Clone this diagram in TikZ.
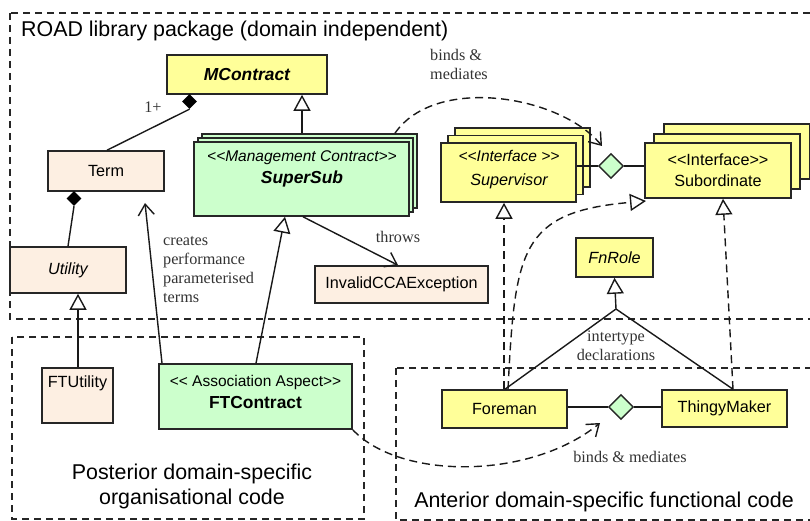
\documentclass[tikz,border=0pt]{standalone}
\usepackage{fontspec}
\setmainfont{Liberation Serif}
\setsansfont{Liberation Sans}
\usetikzlibrary{arrows.meta,shapes.geometric,calc}
\definecolor{roadyellow}{RGB}{255,255,153}
\definecolor{roadgreen}{RGB}{204,255,204}
\definecolor{roadpeach}{RGB}{253,239,226}
\newcommand{\regfont}{\sffamily\fontsize{16.2}{19}\selectfont}
\newcommand{\stereofont}{\fontsize{15.5}{18}\selectfont}
\newcommand{\boldfont}{\bfseries\fontsize{17.4}{20}\selectfont}
\tikzset{
  cls/.style={draw=black!85, line width=1.6pt, rectangle, inner sep=0pt, font=\regfont, align=center},
  ycls/.style={cls, fill=roadyellow},
  gcls/.style={cls, fill=roadgreen},
  pcls/.style={cls, fill=roadpeach},
  txt/.style={inner sep=0pt, font=\regfont, align=center},
  pkg/.style={draw=black!85, line width=1.5pt, dash pattern=on 7pt off 5pt},
  conn/.style={draw=black!90, line width=1.4pt},
  dconn/.style={conn, dash pattern=on 8pt off 5pt},
  gen/.style={-{Triangle[fill=white,length=16pt,width=17pt]}},
  opena/.style={-{Straight Barb[length=11pt,width=16pt]}},
  lbl/.style={font=\rmfamily\fontsize{16.2}{19}\selectfont, text=black!80, inner sep=0pt},
  ptitle/.style={font=\sffamily\fontsize{21.4}{25}\selectfont, inner sep=0pt, align=center},
  assoc/.style={diamond, draw=black!85, line width=1.4pt, fill=roadgreen, inner sep=0pt, minimum width=25pt, minimum height=25pt},
  comp/.style={diamond, fill=black, inner sep=0pt, minimum width=15pt, minimum height=15pt},
}
\begin{document}
\begin{tikzpicture}[x=1pt,y=-1pt]
\useasboundingbox (0,0) rectangle (810,521);
\clip (0,0) rectangle (810,521);
% packages
\draw[pkg] (10,13) rectangle (830,319);
\draw[pkg] (12,337) rectangle (364,519);
\draw[pkg] (396,368) rectangle (830,520);
\node[ptitle, anchor=west] (roadtitle) at (21,31) {ROAD library package (domain independent)};
\node[ptitle] (posttitle) at (192,486) {Posterior domain-specific\\organisational code};
\node[ptitle] (antetitle) at (604,502) {Anterior domain-specific functional code};

% classes
\node[ycls, minimum width=160pt, minimum height=39pt, font=\sffamily\boldfont\itshape] (mc) at (247,74.5) {MContract};
\node[pcls, minimum width=116pt, minimum height=40pt] (term) at (106,171) {Term};
\node[pcls, minimum width=116pt, minimum height=46pt, font=\regfont\itshape] (util) at (68,270) {Utility};
% SuperSub stack
\node[gcls, minimum width=215pt, minimum height=74pt] (ss3) at (309.5,171) {};
\node[gcls, minimum width=215pt, minimum height=74pt] (ss2) at (305.5,175) {};
\node[gcls, minimum width=215pt, minimum height=74pt] (supersub) at (301.5,179) {};
\node[txt] (supersubtxt) at (302,168.5) {\stereofont\itshape <{}<Management Contract>{}>\\[3pt]\boldfont\itshape SuperSub};
% Supervisor stack
\node[ycls, minimum width=135pt, minimum height=59pt] (sv3) at (522.5,157.5) {};
\node[ycls, minimum width=135pt, minimum height=59pt] (sv2) at (515.5,165) {};
\node[ycls, minimum width=135pt, minimum height=59pt] (sup) at (508.5,172.5) {};
\node[txt, font=\regfont\itshape] (suptxt) at (509,170) {{\stereofont <{}<Interface >{}>}\\[5pt]Supervisor};
% Subordinate stack
\node[ycls, minimum width=146pt, minimum height=55pt] (sb3) at (737,151.5) {};
\node[ycls, minimum width=146pt, minimum height=55pt] (sb2) at (727,161.5) {};
\node[ycls, minimum width=146pt, minimum height=55pt] (sub) at (718,170.5) {};
\node[txt] (subtxt) at (718,170.5) {<{}<Interface>{}>\\[2pt]Subordinate};

\node[pcls, minimum width=173pt, minimum height=37pt] (invalid) at (401.5,284.5) {InvalidCCAException};
\node[ycls, minimum width=77pt, minimum height=39pt, font=\regfont\itshape] (fnrole) at (614.5,257.5) {FnRole};
\node[pcls, minimum width=71pt, minimum height=55pt] (ftu) at (77.5,395.5) {};
\node[txt] (ftutxt) at (77.5,383) {FTUtility};
\node[gcls, minimum width=193pt, minimum height=65pt] (ftc) at (255.5,396.5) {};
\node[txt] (ftctxt) at (255.5,391.5) {\stereofont <{}< Association Aspect>{}>\\[3pt]\boldfont FTContract};
\node[ycls, minimum width=125pt, minimum height=38pt] (foreman) at (504.5,409) {Foreman};
\node[ycls, minimum width=125pt, minimum height=37pt] (thingy) at (724.5,408.5) {ThingyMaker};

% diamonds
\node[comp] (d1) at (189.5,101.5) {};
\node[comp] (d2) at (74,198.5) {};
\node[assoc] (d3) at (611,166) {};
\node[assoc] (d4) at (621,407) {};

% helper coordinates
\coordinate (termtip) at (145,203);
\coordinate (bm1tip) at (602,146);
\coordinate (bm2tip) at (600,423);
\coordinate (subtip) at (646,201);
\coordinate (fnapex) at (616,309);

% connectors
\draw[conn] (107,0 |- term.north) -- (d1.south);
\draw[conn] (68,0 |- util.north) -- (d2.south);
\draw[conn,gen] (78,0 |- ftu.north) -- (78,0 |- util.south);
\draw[conn,gen] (302,0 |- ss3.north) -- (302,0 |- mc.south);
\draw[conn,gen] (256,0 |- ftc.north) -- (285,0 |- supersub.south);
\draw[conn,opena] (162,0 |- ftc.north) -- (termtip);
\draw[conn,opena] (303,0 |- supersub.south) -- (398,0 |- invalid.north);
\draw[dconn,opena] (395,0 |- ss3.north) .. controls (435,75) and (560,95) .. (bm1tip);
\draw[dconn,gen] (504,0 |- foreman.north) -- (504,0 |- sup.south);
\draw[dconn,gen] (508,0 |- foreman.north) .. controls (515,250) and (520,212) .. (subtip);
\draw[dconn,gen] (733,0 |- thingy.north) -- (723,0 |- sub.south);
\draw[conn,gen] (fnapex) -- (fnrole.south);
\draw[conn] (fnapex) -- (505,0 |- foreman.north);
\draw[conn] (fnapex) -- (733,0 |- thingy.north);
\draw[dconn,opena] (ftc.south east) .. controls (400,480) and (530,480) .. (bm2tip);
\draw[conn] (d3.west -| sup.east) -- (d3.west);
\draw[conn] (d3.east) -- (d3.east -| sub.west);
\draw[conn] (d4.west -| foreman.east) -- (d4.west);
\draw[conn] (d4.east) -- (d4.east -| thingy.west);

% labels
\node[lbl] (l1) at (153,107) {1+};
\node[lbl, anchor=north west, align=left] (lcreates) at (163,236) {creates\\performance\\parameterised\\terms};
\node[lbl] (lthrows) at (398,237) {throws};
\node[lbl, anchor=west, align=left] (lbm1) at (430,64) {binds \&\\mediates};
\node[lbl] (lbm2) at (630,457) {binds \& mediates};
\node[lbl, align=center] (lit) at (616,346) {intertype\\declarations};
\end{tikzpicture}
\end{document}
